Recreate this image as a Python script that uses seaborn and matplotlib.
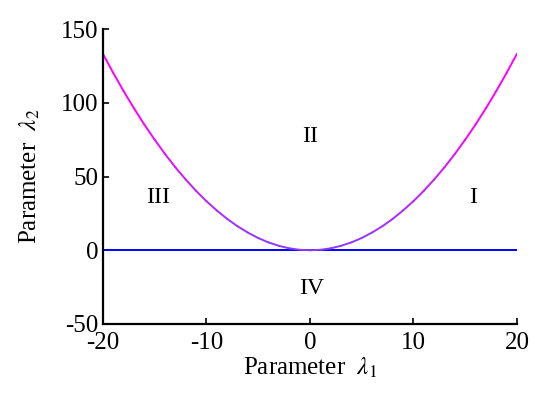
import numpy as np
import pandas as pd
import matplotlib
matplotlib.use("Agg")
import matplotlib.pyplot as plt
import seaborn as sns
from matplotlib.collections import LineCollection
from matplotlib.colors import LinearSegmentedColormap

# boundary curve
lam1 = list(range(-20, 21))
lam2 = [133.3, 120.3, 108.0, 96.3, 85.3, 75.0, 65.3, 56.3, 48.0, 40.3,
        33.3, 27.0, 21.3, 16.3, 12.0, 8.3, 5.3, 3.0, 1.3, 0.3, 0.0,
        0.3, 1.3, 3.0, 5.3, 8.3, 12.0, 16.3, 21.3, 27.0, 33.3,
        40.3, 48.0, 56.3, 65.3, 75.0, 85.3, 96.3, 108.0, 120.3, 133.3]
base_x = [-20, 20]
base_y = [0, 0]

region_names = ["I", "II", "III", "IV"]
region_x = [15.8, 0.0, -14.7, 0.2]
region_y = [36, 77, 36, -26]

sns.set_style("white", {"text.color": "black", "axes.labelcolor": "black",
                        "xtick.color": "black", "ytick.color": "black"})
plt.rcParams['font.family'] = ['Liberation Serif', 'DejaVu Serif']
plt.rcParams['mathtext.fontset'] = 'stix'
plt.rcParams['axes.unicode_minus'] = False

fig = plt.figure(figsize=(5.5, 3.98), dpi=100)
ax = fig.add_axes([0.187, 0.186, 0.753, 0.741])

df = pd.DataFrame({"x": base_x, "y": base_y})
sns.lineplot(data=df, x="x", y="y", color="#0000ff", lw=1.4, ax=ax)

# parabola with colour fading from violet (bottom) to magenta (top)
xs = np.array(lam1, dtype=float)
ys = np.array(lam2, dtype=float)
pts = np.column_stack([xs, ys]).reshape(-1, 1, 2)
segs = np.concatenate([pts[:-1], pts[1:]], axis=1)
cmap = LinearSegmentedColormap.from_list("pv", ["#8a3cff", "#c61cff", "#ff00ff", "#ff00ff"])
lc = LineCollection(segs, cmap=cmap, norm=plt.Normalize(0, 133), linewidths=1.4,
                    capstyle="round", joinstyle="round")
lc.set_array((ys[:-1] + ys[1:]) / 2)
ax.add_collection(lc)

for name, tx, ty in zip(region_names, region_x, region_y):
    ax.text(tx, ty, name, fontsize=17, ha="center", va="center", color="black")

ax.set_xlim(-20, 20)
ax.set_ylim(-50, 150)
ax.set_xticks([-20, -10, 0, 10, 20])
ax.set_yticks([-50, 0, 50, 100, 150])
ax.tick_params(direction="in", length=4, width=1.2, labelsize=18,
               bottom=True, left=True, colors="black")
ax.tick_params(axis="x", pad=6)
ax.tick_params(axis="y", pad=3)
sns.despine(ax=ax)
for s in ["left", "bottom"]:
    ax.spines[s].set_linewidth(1.6)
    ax.spines[s].set_color("black")

ax.set_xlabel(r"Parameter  $\lambda_1$", fontsize=18, labelpad=1, color="black")
ax.set_ylabel(r"Parameter  $\lambda_2$", fontsize=18, labelpad=14, color="black")

fig.savefig("out.png", dpi=100)
